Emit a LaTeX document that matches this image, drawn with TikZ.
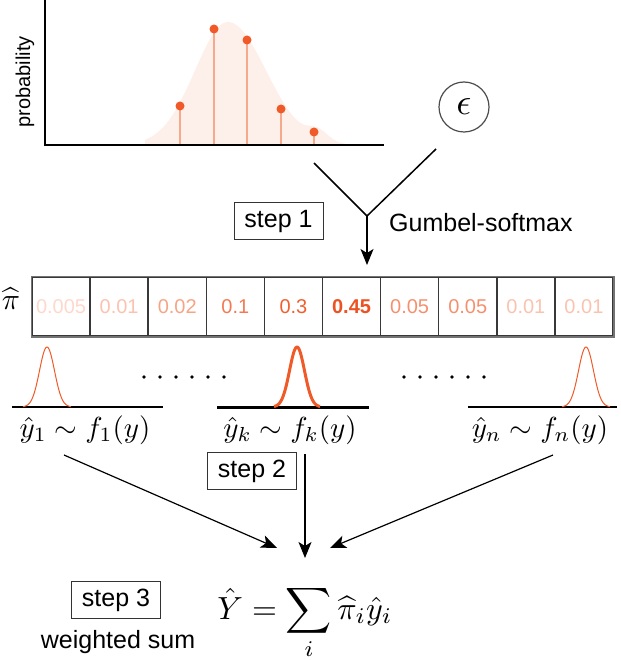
\documentclass[tikz,border=0pt]{standalone}
\usepackage{amsmath}
\usepackage{graphicx}
\usepackage{fontspec}
\setmainfont{Liberation Sans}
\usetikzlibrary{arrows.meta}
\definecolor{myorange}{HTML}{F05A28}
\definecolor{curvefill}{HTML}{FDF0EA}
\definecolor{stemcol}{HTML}{F7A98B}
\definecolor{nA}{HTML}{FDD8CB}
\definecolor{nB}{HTML}{FAC3AF}
\definecolor{nC}{HTML}{F6A486}
\definecolor{nD}{HTML}{F27A52}
\definecolor{nE}{HTML}{EF5F30}
\definecolor{nF}{HTML}{EC5323}
\definecolor{nG}{HTML}{F5906E}
\begin{document}
\begin{tikzpicture}[x=1pt,y=-1pt,
  lbl/.style={inner sep=0, font=\fontsize{25}{30}\selectfont},
  stepbox/.style={draw=black!80, line width=1pt, minimum width=89pt, minimum height=37pt, inner sep=0, font=\fontsize{25}{30}\selectfont},
  cell/.style={draw=black!78, line width=1.5pt, minimum width=58.1pt, minimum height=59pt, inner sep=0, font=\fontsize{20}{24}\selectfont},
  arr/.style={line width=1.2pt, -{Stealth[length=16pt,width=13pt,inset=4pt]}},
  base/.style={line width=2.5pt},
  gauss/.style={draw=myorange, line width=1pt},
  mlbl/.style={inner sep=0, font=\fontsize{10}{12}\selectfont},
  stem/.style={draw=stemcol, line width=1.5pt}]
\useasboundingbox (0,0) rectangle (620,660);

% ---- top probability plot ----
\fill[curvefill] (145,145)
  -- plot[domain=145:228, samples=50] (\x, {145-123*exp(-(\x-228)*(\x-228)/2178)})
  -- plot[domain=228:345, samples=60] (\x, {145-123*exp(-(\x-228)*(\x-228)/2888)-10*exp(-(\x-318)*(\x-318)/200)})
  -- (345,145) -- cycle;
\foreach \x/\y in {180/106, 214/29, 247/40, 281/109, 314/132} {
  \draw[stem] (\x,145) -- (\x,\y);
  \fill[myorange] (\x,\y) circle (4.5);
}
\draw[line width=2pt] (45,0) -- (45,145) -- (384,145);
\node[rotate=90, inner sep=0, font=\fontsize{20}{24}\selectfont] (ylab) at (25,82) {probability};

% ---- epsilon and Gumbel-softmax ----
\node[circle, draw=black!70, line width=1.2pt, minimum size=50pt, inner sep=0, font=\fontsize{10}{12}\selectfont] (eps) at (464,107) {\scalebox{3.7}{$\epsilon$}};
\coordinate (yl) at (314,163);
\coordinate (yr) at (436,149);
\coordinate (yv) at (367,216);
\coordinate (ytip) at (367,265);
\draw[line width=1.5pt] (yl) -- (yv) -- (yr);
\draw[arr] (yv) -- (ytip);
\node[lbl, anchor=west] (gumbel) at (389,223) {Gumbel-softmax};
\node[stepbox] (step1) at (278.5,221) {step 1};

% ---- probability vector ----
\node[mlbl] (pilab) at (11,299) {\scalebox{3.0}{$\widehat{\pi}$}};
\node[cell, text=nA] (c1) at (61.05,306.5) {0.005};
\node[cell, text=nB] (c2) at (119.15,306.5) {0.01};
\node[cell, text=nC] (c3) at (177.25,306.5) {0.02};
\node[cell, text=nD] (c4) at (235.35,306.5) {0.1};
\node[cell, text=nE] (c5) at (293.45,306.5) {0.3};
\node[cell, text=nF, font=\fontsize{20}{24}\selectfont\bfseries] (c6) at (351.55,306.5) {0.45};
\node[cell, text=nG] (c7) at (409.65,306.5) {0.05};
\node[cell, text=nG] (c8) at (467.75,306.5) {0.05};
\node[cell, text=nB] (c9) at (525.85,306.5) {0.01};
\node[cell, text=nB] (c10) at (583.95,306.5) {0.01};
\draw[draw=black!55, line width=1.5pt] (c1.north west) rectangle (c10.south east);

% ---- component distributions ----
\draw[base] (12,407) -- (163,407);
\draw[base, line width=3pt] (217,407) -- (369,407);
\draw[base] (468,407) -- (617,407);
\draw[gauss] plot[domain=-24:24, samples=60] ({47+\x}, {407-60*exp(-\x*\x/112)});
\draw[gauss, line width=3pt] plot[domain=-23:23, samples=60] ({297+\x}, {407-60*exp(-\x*\x/112)});
\draw[gauss] plot[domain=-24:24, samples=60] ({586+\x}, {407-60*exp(-\x*\x/112)});
\foreach \x in {144,160,176,192,208,224,404,420,436,452,468,484}
  \fill (\x,377) circle (1.8);
\node[mlbl] (y1) at (85,430) {\scalebox{2.9}{$\hat{y}_1 \sim f_1(y)$}};
\node[mlbl] (yk) at (290,430) {\scalebox{2.9}{$\hat{y}_k \sim f_k(y)$}};
\node[mlbl] (yn) at (540,430) {\scalebox{2.9}{$\hat{y}_n \sim f_n(y)$}};
\node[stepbox] (step2) at (252,471) {step 2};

% ---- weighted sum ----
\node[mlbl, anchor=base] (sum) at (305,619) {\scalebox{3.2}{$\displaystyle \hat{Y} = \sum_i \widehat{\pi}_i \hat{y}_i$}};
\coordinate (s1) at (64,455);
\coordinate (s2) at (305,454);
\coordinate (s3) at (553,455);
\coordinate (e1) at (277,548);
\coordinate (e2) at (305,558);
\coordinate (e3) at (330,548);
\draw[arr] (s1) -- (e1);
\draw[arr] (s2) -- (e2);
\draw[arr] (s3) -- (e3);
\node[stepbox] (step3) at (116,600) {step 3};
\node[lbl] (wsum) at (118,642) {weighted sum};
\end{tikzpicture}
\end{document}
